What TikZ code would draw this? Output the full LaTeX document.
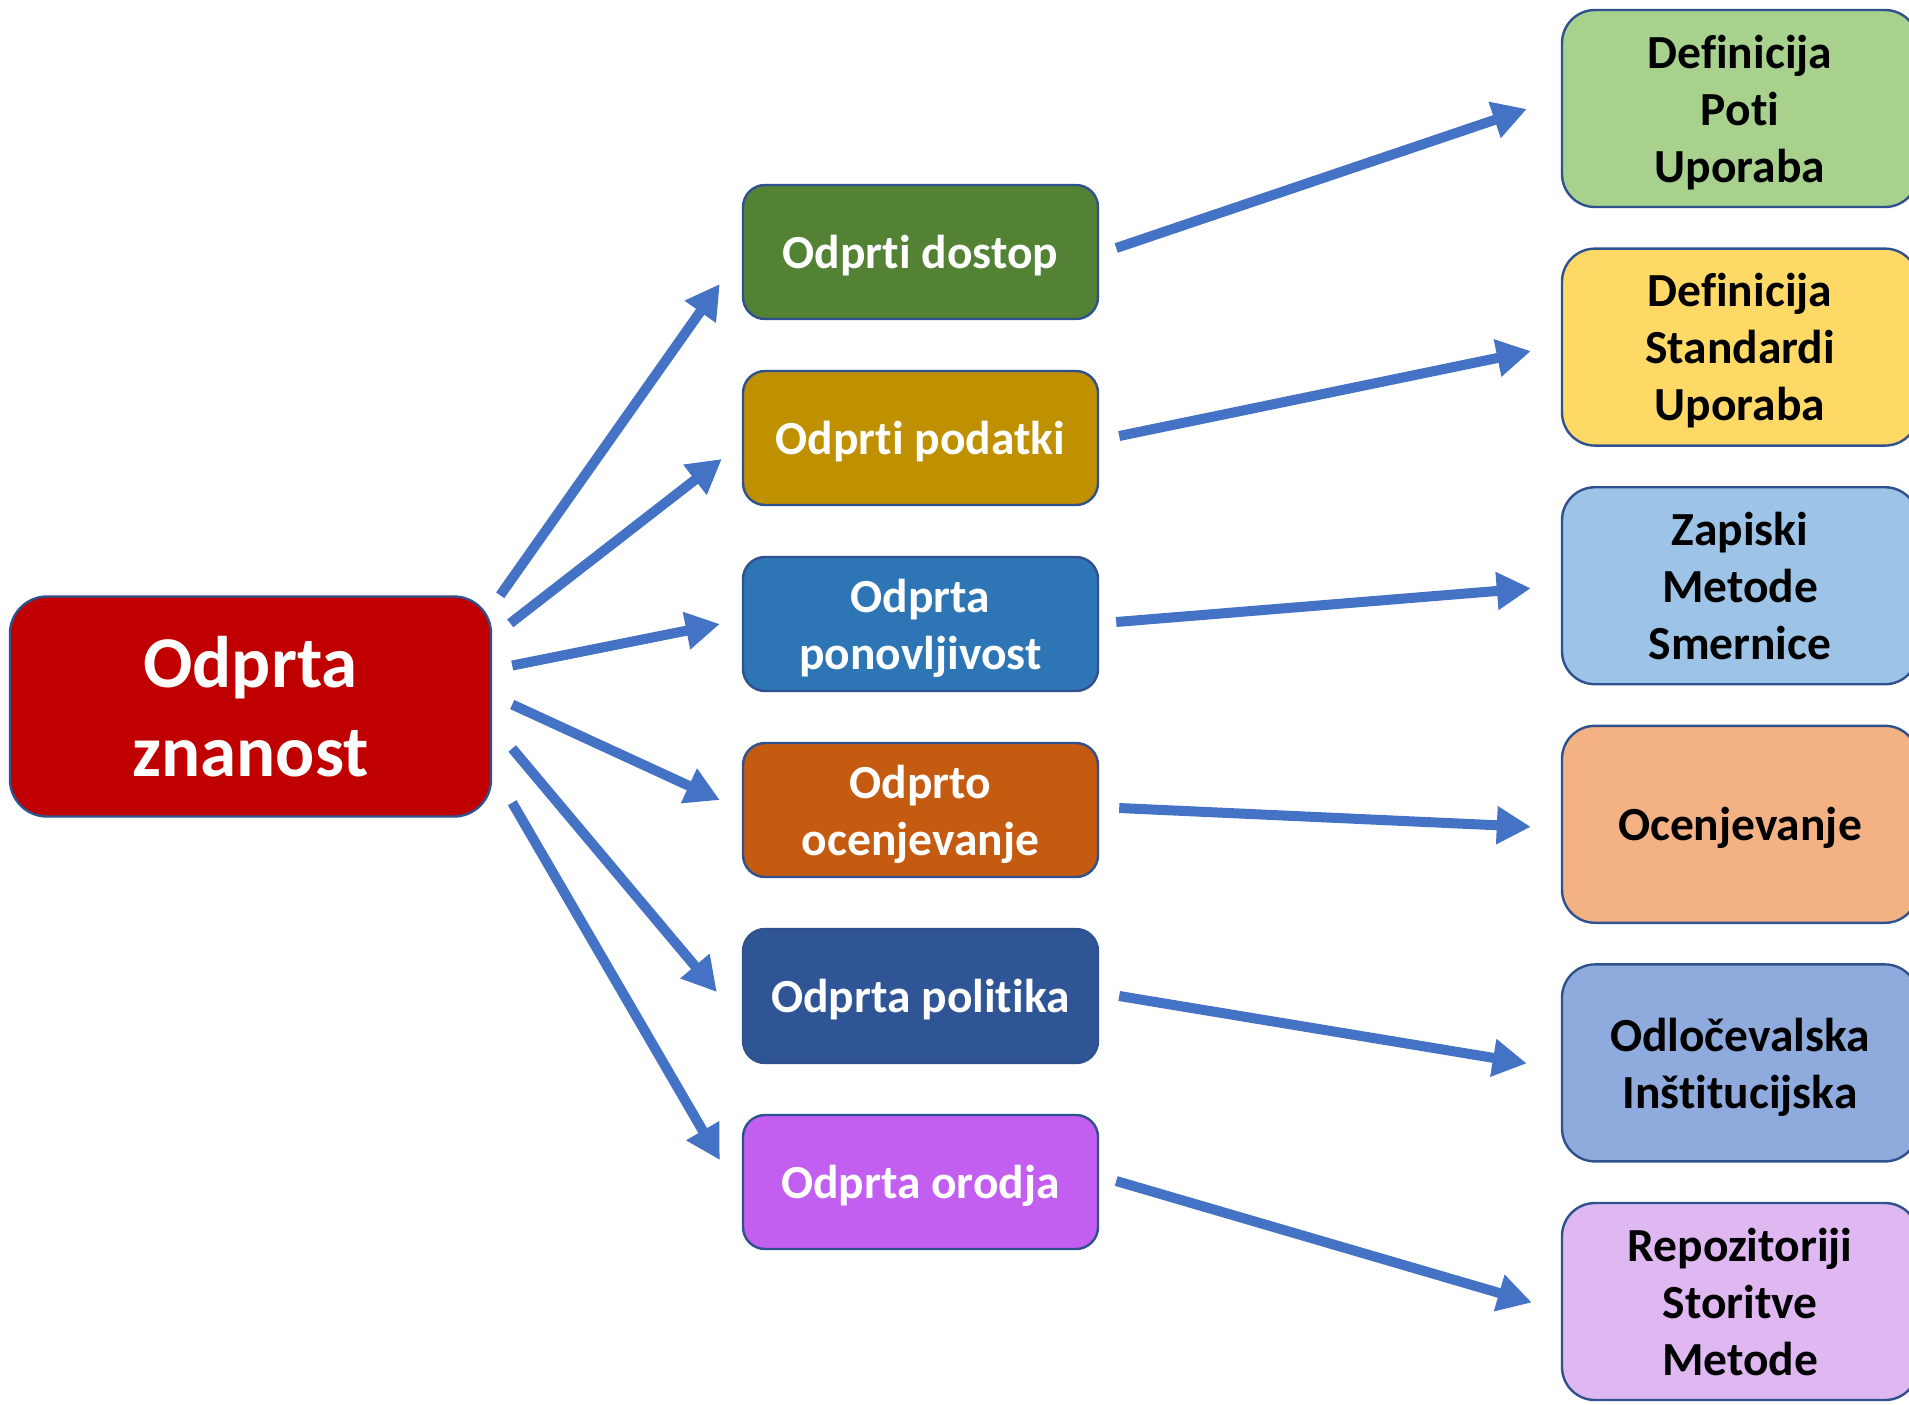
\documentclass[tikz,border=0pt]{standalone}
\usepackage{fontspec}
\setmainfont{Carlito}[Ligatures={NoCommon,NoContextual}]
\usetikzlibrary{positioning,calc,arrows.meta}

\definecolor{linkblue}{HTML}{4472C4}
\definecolor{boxline}{HTML}{2F528F}
\definecolor{rootred}{HTML}{C00000}
\definecolor{accgreen}{HTML}{548235}
\definecolor{datagold}{HTML}{BF9000}
\definecolor{repblue}{HTML}{2E75B6}
\definecolor{peerorange}{HTML}{C55A11}
\definecolor{poldark}{HTML}{2F5597}
\definecolor{toolpurple}{HTML}{C35FF0}
\definecolor{lgreen}{HTML}{A9D18E}
\definecolor{lyellow}{HTML}{FFD966}
\definecolor{lblue}{HTML}{9DC3E6}
\definecolor{lpeach}{HTML}{F4B183}
\definecolor{lperi}{HTML}{8FAADC}
\definecolor{llav}{HTML}{DFB7F1}

\begin{document}
\begin{tikzpicture}[x=0.5pt,y=-0.5pt,
    box/.style={draw=boxline,line width=1.2pt,rounded corners=11pt,minimum width=177.5pt,minimum height=67pt,
        align=center,text depth=0pt,text=white,font=\fontsize{23.75}{28.5}\selectfont\bfseries},
    topic/.style={draw=boxline,line width=1.2pt,rounded corners=16.5pt,minimum width=178pt,minimum height=98.5pt,
        align=center,text depth=0pt,text=black,font=\fontsize{23.75}{28.5}\selectfont\bfseries},
    link/.style={draw=linkblue,line width=5pt,-{Triangle[length=17pt,width=18pt]}}]
        \useasboundingbox (0,0) rectangle (1909,1404);

        \node[draw=boxline,line width=1.2pt,rounded corners=18.5pt,fill=rootred,minimum width=240.5pt,minimum height=110pt,
            align=center,text depth=0pt,text=white,font=\fontsize{36.5}{44.5}\selectfont\bfseries] (root) at (250.5,706.5) {Odprta\\znanost};

        \node[box,fill=accgreen] (ac) at (920.5,252) {Odprti dostop};
        \node[box,fill=datagold] (pd) [below=24.8pt of ac] {Odprti podatki};
        \node[box,fill=repblue] (rp) [below=24.8pt of pd] {Odprta\\ponovljivost};
        \node[box,fill=peerorange] (ope) [below=24.8pt of rp] {Odprto\\ocenjevanje};
        \node[box,fill=poldark] (pol) [below=24.8pt of ope] {Odprta politika};
        \node[box,fill=toolpurple] (tools) [below=24.8pt of pol] {Odprta orodja};

        \node[topic,fill=lgreen] (r1) at (1740,108.5) {Definicija\\Poti\\Uporaba};
        \node[topic,fill=lyellow] (r2) [below=19.6pt of r1] {Definicija\\Standardi\\Uporaba};
        \node[topic,fill=lblue] (r3) [below=19.6pt of r2] {Zapiski\\Metode\\Smernice};
        \node[topic,fill=lpeach] (r4) [below=19.6pt of r3] {Ocenjevanje};
        \node[topic,fill=lperi] (r5) [below=19.6pt of r4] {Odločevalska\\Inštitucijska};
        \node[topic,fill=llav] (r6) [below=19.6pt of r5] {Repozitoriji\\Storitve\\Metode};

        % fan out from the root
        \draw[link] ($(root.north east)+(8,0)$) -- ($(ac.west)+(-22,32)$);
        \draw[link] ($(root.north east)+(18,28)$) -- ($(pd.west)+(-20,21)$);
        \draw[link] ($(root.east)+(20,-41)$) -- ($(rp.west)+(-22,0)$);
        \draw[link] ($(root.east)+(20,-2)$) -- ($(ope.west)+(-22,-10)$);
        \draw[link] ($(root.east)+(20,42)$) -- ($(pol.west)+(-25,-4)$);
        \draw[link] ($(root.south east)+(20,-15)$) -- ($(tools.west)+(-22,-22)$);

        % one arrow to each topic box
        \draw[link] ($(ac.east)+(17,-4)$) -- ($(r1.west)+(-34,0.5)$);
        \draw[link] ($(pd.east)+(20,-2)$) -- ($(r2.west)+(-30,4)$);
        \draw[link] ($(rp.east)+(17,-2)$) -- ($(r3.west)+(-30,2.5)$);
        \draw[link] ($(ope.east)+(20,-2)$) -- ($(r4.west)+(-30,2.5)$);
        \draw[link] ($(pol.east)+(20,0)$) -- ($(r5.west)+(-34,0.5)$);
        \draw[link] ($(tools.east)+(17,-1)$) -- ($(r6.west)+(-29,1)$);
    \end{tikzpicture}
\end{document}
